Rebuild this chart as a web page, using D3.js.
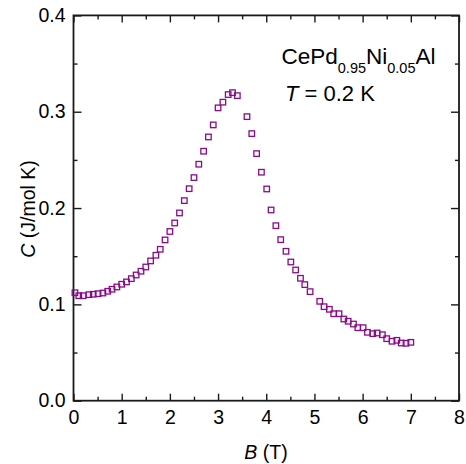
<html>
<head>
  <script src="https://cdn.jsdelivr.net/npm/d3@7"></script>
  <style>
    body { margin: 0; background: #fff; }
    text { font-family: "Liberation Sans", Arial, sans-serif; fill: #000; }
    .axis path { stroke: none; }
    .axis line { stroke: #1a1a1a; stroke-width: 1.4; }
    .axis text { font-size: 19.5px; font-family: "Liberation Sans", Arial, sans-serif; }
    .pt { fill: none; stroke: #8a0a8a; stroke-width: 1.3; }
  </style>
</head>
<body>
<script>
// Field (T) and specific heat (J/mol K)
const fieldB = [0.03, 0.11, 0.20, 0.32, 0.41, 0.51, 0.61, 0.71, 0.80, 0.90,
  1.00, 1.10, 1.20, 1.30, 1.40, 1.50, 1.60, 1.71, 1.80, 1.90,
  2.00, 2.10, 2.20, 2.30, 2.40, 2.50, 2.60, 2.70, 2.80, 2.90,
  3.00, 3.10, 3.21, 3.30, 3.40, 3.60, 3.70, 3.80, 3.90, 4.01,
  4.10, 4.20, 4.30, 4.41, 4.51, 4.61, 4.71, 4.80, 4.91, 5.11,
  5.20, 5.31, 5.40, 5.51, 5.61, 5.70, 5.81, 5.90, 6.01, 6.10,
  6.21, 6.30, 6.41, 6.50, 6.61, 6.71, 6.80, 6.90, 7.00];
const heatC = [0.1121, 0.1090, 0.1090, 0.1101, 0.1105, 0.1111, 0.1118, 0.1136, 0.1157, 0.1181,
  0.1209, 0.1233, 0.1267, 0.1305, 0.1344, 0.1388, 0.1451, 0.1510, 0.1572, 0.1669,
  0.1757, 0.1845, 0.1949, 0.2077, 0.2201, 0.2316, 0.2455, 0.2590, 0.2738, 0.2863,
  0.3040, 0.3099, 0.3178, 0.3198, 0.3167, 0.2949, 0.2773, 0.2565, 0.2372, 0.2198,
  0.1980, 0.1817, 0.1672, 0.1551, 0.1440, 0.1357, 0.1271, 0.1205, 0.1132, 0.1032,
  0.0976, 0.0949, 0.0903, 0.0903, 0.0848, 0.0825, 0.0796, 0.0758, 0.0758, 0.0710,
  0.0696, 0.0703, 0.0685, 0.0644, 0.0617, 0.0627, 0.0599, 0.0596, 0.0606];

const xTicks = [0, 1, 2, 3, 4, 5, 6, 7, 8];
const yTicks = [0.0, 0.1, 0.2, 0.3, 0.4];

const w = 466, h = 464;
const plotL = 73.5, plotR = 459, plotT = 15.4, plotB = 400.7;

const svg = d3.select("body").append("svg")
  .attr("width", w).attr("height", h);

const x = d3.scaleLinear().domain([0, 8]).range([plotL, plotR]);
const y = d3.scaleLinear().domain([0, 0.4]).range([plotB, plotT]);

const xMinor = d3.range(0.5, 8, 1);
const yMinor = d3.range(0.05, 0.4, 0.1);

// major ticks, pointing inward
svg.append("g").attr("class", "axis")
  .attr("transform", "translate(0," + plotB + ")")
  .call(d3.axisBottom(x).tickValues(xTicks).tickSize(-7).tickPadding(9).tickFormat(d3.format("d")));
svg.append("g").attr("class", "axis")
  .attr("transform", "translate(0," + plotT + ")")
  .call(d3.axisTop(x).tickValues(xTicks).tickSize(-7).tickFormat(""));
svg.append("g").attr("class", "axis")
  .attr("transform", "translate(" + plotL + ",0)")
  .call(d3.axisLeft(y).tickValues(yTicks).tickSize(-8).tickPadding(8).tickFormat(d3.format(".1f")));
svg.append("g").attr("class", "axis")
  .attr("transform", "translate(" + plotR + ",0)")
  .call(d3.axisRight(y).tickValues(yTicks).tickSize(-8).tickFormat(""));

// minor ticks
svg.append("g").attr("class", "axis")
  .attr("transform", "translate(0," + plotB + ")")
  .call(d3.axisBottom(x).tickValues(xMinor).tickSize(-4).tickFormat(""));
svg.append("g").attr("class", "axis")
  .attr("transform", "translate(0," + plotT + ")")
  .call(d3.axisTop(x).tickValues(xMinor).tickSize(-4).tickFormat(""));
svg.append("g").attr("class", "axis")
  .attr("transform", "translate(" + plotL + ",0)")
  .call(d3.axisLeft(y).tickValues(yMinor).tickSize(-4).tickFormat(""));
svg.append("g").attr("class", "axis")
  .attr("transform", "translate(" + plotR + ",0)")
  .call(d3.axisRight(y).tickValues(yMinor).tickSize(-4).tickFormat(""));

// frame
svg.append("rect")
  .attr("x", plotL).attr("y", plotT)
  .attr("width", plotR - plotL).attr("height", plotB - plotT)
  .attr("fill", "none").attr("stroke", "#1a1a1a").attr("stroke-width", 1.8);

// data points, open squares
const s = 5.5;
svg.append("g").selectAll("rect")
  .data(fieldB.map((b, i) => ({ b: b, c: heatC[i] })))
  .join("rect")
  .attr("class", "pt")
  .attr("x", d => x(d.b) - s / 2)
  .attr("y", d => y(d.c) - s / 2)
  .attr("width", s).attr("height", s);

// axis titles
svg.append("text")
  .attr("x", 266).attr("y", 459)
  .attr("text-anchor", "middle")
  .style("font-size", "19.5px")
  .html('<tspan font-style="italic">B</tspan> (T)');

svg.append("text")
  .attr("transform", "translate(35,209) rotate(-90)")
  .attr("text-anchor", "middle")
  .style("font-size", "19.5px")
  .html('<tspan font-style="italic">C</tspan> (J/mol K)');

// sample label
const lab = svg.append("text")
  .attr("x", 281.5).attr("y", 64.3)
  .style("font-size", "22.5px");
lab.append("tspan").text("CePd");
lab.append("tspan").attr("dy", 8.4).style("font-size", "14.5px").text("0.95");
lab.append("tspan").attr("dy", -8.4).text("Ni");
lab.append("tspan").attr("dy", 8.4).style("font-size", "14.5px").text("0.05");
lab.append("tspan").attr("dy", -8.4).text("Al");

svg.append("text")
  .attr("x", 285).attr("y", 100.7)
  .style("font-size", "22px")
  .html('<tspan font-style="italic">T</tspan> = 0.2 K');
</script>
</body>
</html>
